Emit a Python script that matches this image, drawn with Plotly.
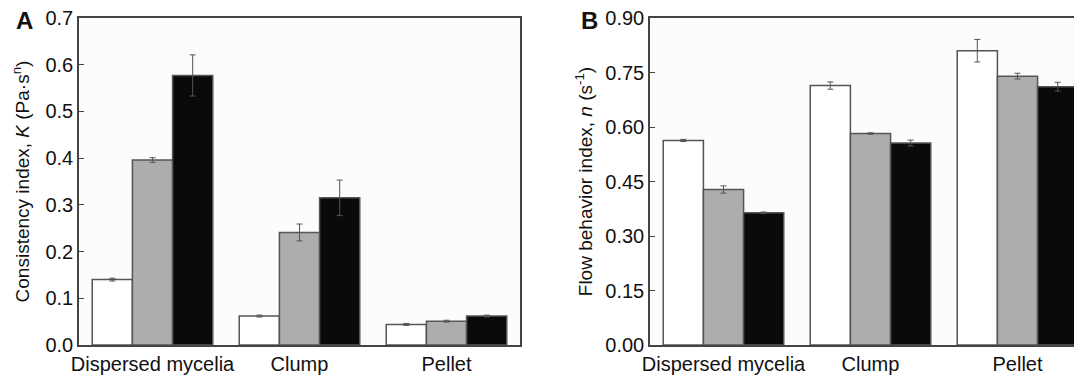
import plotly.graph_objects as go

categories = ["Dispersed mycelia", "Clump", "Pellet"]
series_names = ["S1", "S2", "S3"]
colors = ["#ffffff", "#adadad", "#0a0a0a"]

# Panel A: consistency index K
K_values = [
    [0.140, 0.062, 0.044],
    [0.396, 0.241, 0.051],
    [0.577, 0.315, 0.062],
]
K_errors = [
    [0.003, 0.002, 0.002],
    [0.005, 0.018, 0.002],
    [0.044, 0.038, 0.002],
]

# Panel B: flow behavior index n
n_values = [
    [0.563, 0.714, 0.810],
    [0.428, 0.582, 0.740],
    [0.364, 0.556, 0.711],
]
n_errors = [
    [0.003, 0.010, 0.031],
    [0.010, 0.002, 0.008],
    [0.002, 0.008, 0.012],
]

fig = go.Figure()
for i in range(3):
    fig.add_trace(go.Bar(
        x=categories, y=K_values[i], name=series_names[i],
        marker=dict(color=colors[i], line=dict(color="#555555", width=1.5)),
        error_y=dict(type="data", array=K_errors[i], color="#555555", thickness=1, width=3),
        xaxis="x", yaxis="y", showlegend=False,
    ))
for i in range(3):
    fig.add_trace(go.Bar(
        x=categories, y=n_values[i], name=series_names[i],
        marker=dict(color=colors[i], line=dict(color="#555555", width=1.5)),
        error_y=dict(type="data", array=n_errors[i], color="#555555", thickness=1, width=3),
        xaxis="x2", yaxis="y2", showlegend=False,
    ))

# page body has an 8px margin, so the figure is laid out 8px up/left
W, H = 1074, 372
off = 8
yd = [(H - (345 - off)) / H, (H - (18 - off)) / H]
font = "Liberation Sans, Arial, sans-serif"
axline = dict(showline=True, linecolor="#444444", linewidth=1.5, showgrid=False,
              zeroline=False, automargin=False, ticklabeloverflow="allow")

fig.update_layout(
    width=W, height=H,
    margin=dict(l=0, r=0, t=0, b=0, autoexpand=False),
    paper_bgcolor="white",
    plot_bgcolor="#fcfcfc",
    barmode="group", bargap=0.18, bargroupgap=0,
    font=dict(family=font, size=19, color="#111111"),
    xaxis=dict(domain=[(79 - off) / W, (520 - off) / W], anchor="y", range=[-0.5, 2.5], mirror=True,
               ticks="", tickfont=dict(size=20), **axline),
    yaxis=dict(domain=yd, anchor="x", range=[0, 0.7], dtick=0.1, tickformat=".1f",
               ticks="inside", ticklen=5, tickcolor="#444444", mirror=True,
               tickfont=dict(size=20),
               title=dict(text="Consistency index, <i>K</i> (Pa·s<sup>n</sup>)",
                          font=dict(size=19), standoff=11),
               **axline),
    xaxis2=dict(domain=[(650 - off) / W, 1.0], anchor="y2", range=[-0.5, -0.5 + 432 / 147], mirror=True,
                ticks="", tickfont=dict(size=20), **axline),
    yaxis2=dict(domain=yd, anchor="x2", range=[0, 0.9], dtick=0.15, tickformat=".2f",
                ticks="inside", ticklen=5, tickcolor="#444444", mirror=False,
                tickfont=dict(size=20),
                title=dict(text="Flow behavior index, <i>n</i> (s<sup>-1</sup>)",
                           font=dict(size=19), standoff=8),
                **axline),
    annotations=[
        dict(text="<b>A</b>", x=(24 - off) / W, y=(H - (20.5 - off)) / H, xref="paper", yref="paper",
             xanchor="center", yanchor="middle",
             showarrow=False, font=dict(size=24, family=font, color="#111111")),
        dict(text="<b>B</b>", x=(589.5 - off) / W, y=(H - (20.5 - off)) / H, xref="paper", yref="paper",
             xanchor="center", yanchor="middle",
             showarrow=False, font=dict(size=24, family=font, color="#111111")),
    ],
)

fig.write_html("out.html")
